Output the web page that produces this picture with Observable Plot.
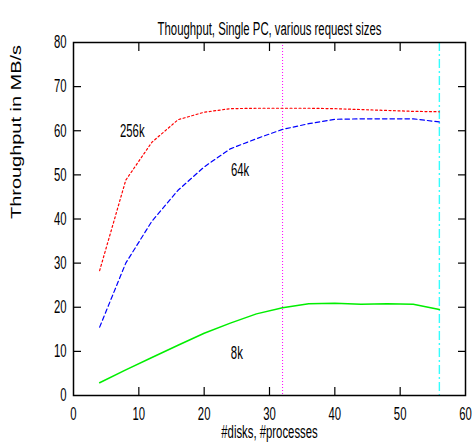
<!DOCTYPE html>
<html>
<head>
<meta charset="utf-8">
<script src="https://cdn.jsdelivr.net/npm/d3@7"></script>
<script src="https://cdn.jsdelivr.net/npm/@observablehq/plot@0.6"></script>
<style>
  html, body { margin: 0; padding: 0; background: #fff; }
  svg { display: block; }
</style>
</head>
<body>
<div id="chart"></div>
<script>
const disks = [4, 8, 12, 16, 20, 24, 28, 32, 36, 40, 44, 48, 52, 56];
const thr256k = [28.3, 48.8, 57.4, 62.5, 64.2, 65.0, 65.1, 65.1, 65.1, 65.0, 64.8, 64.6, 64.4, 64.3];
const thr64k  = [15.5, 30.0, 39.5, 46.5, 51.8, 55.9, 58.2, 60.3, 61.6, 62.6, 62.7, 62.7, 62.7, 62.0];
const thr8k   = [2.9, 5.8, 8.6, 11.4, 14.1, 16.4, 18.5, 19.9, 20.8, 20.9, 20.7, 20.8, 20.7, 19.5];
const markers = [32, 56];
const xTicks = [0, 10, 20, 30, 40, 50, 60];
const yTicks = [0, 10, 20, 30, 40, 50, 60, 70, 80];
const seriesLabels = [
  {x: 9.0, y: 59.9, text: "256k"},
  {x: 25.5, y: 51.0, text: "64k"},
  {x: 25.0, y: 9.6, text: "8k"}
];
const titleText = "Thoughput, Single PC, various request sizes";
const xLabel = "#disks, #processes";
const yLabel = "Throughput in MB/s";

const rows = (vals) => disks.map((d, i) => ({x: d, y: vals[i]}));
const font = "'Liberation Sans', Arial, sans-serif";

const chart = Plot.plot({
  width: 472,
  height: 445,
  marginLeft: 73,
  marginRight: 7,
  marginTop: 42,
  marginBottom: 50,
  style: {fontFamily: font, fontSize: "18px", color: "#000", background: "#fff"},
  x: {domain: [0, 60]},
  y: {domain: [0, 80]},
  marks: [
    Plot.ruleX([markers[0]], {x: d => d, stroke: "#ff00ff", strokeWidth: 1, strokeDasharray: "1,2"}),
    Plot.ruleX([markers[1]], {x: d => d, stroke: "#33ffff", strokeWidth: 1.4, strokeDasharray: "9,3,2,3"}),
    Plot.line(rows(thr256k), {x: "x", y: "y", stroke: "#ff0000", strokeWidth: 1.2, strokeDasharray: "2,2.5"}),
    Plot.line(rows(thr64k), {x: "x", y: "y", stroke: "#0000ff", strokeWidth: 1.2, strokeDasharray: "4.5,3"}),
    Plot.line(rows(thr8k), {x: "x", y: "y", stroke: "#00ee00", strokeWidth: 1.5}),
    Plot.text(seriesLabels, {x: "x", y: "y", text: "text", fontSize: 18, fill: "#000"}),
    Plot.frame({stroke: "#000", strokeWidth: 1.5}),
    Plot.axisX(xTicks.slice(1, -1), {anchor: "bottom", tickSize: -8, text: null, label: null, strokeWidth: 1.2}),
    Plot.axisX(xTicks.slice(1, -1), {anchor: "top", tickSize: -8, text: null, label: null, strokeWidth: 1.2}),
    Plot.axisY(yTicks.slice(1, -1), {anchor: "left", tickSize: -8, text: null, label: null, strokeWidth: 1.2}),
    Plot.axisY(yTicks.slice(1, -1), {anchor: "right", tickSize: -8, text: null, label: null, strokeWidth: 1.2}),
    Plot.axisX(xTicks, {anchor: "bottom", tickSize: 0, tickPadding: 12, fontSize: 18, label: null}),
    Plot.axisY(yTicks, {anchor: "left", tickSize: 0, tickPadding: 7, fontSize: 18, label: null}),
    Plot.text([xLabel], {frameAnchor: "bottom", dy: 42, fontSize: 18, fill: "#000"}),
    Plot.text([yLabel], {frameAnchor: "left", dx: -57, rotate: -90, fontSize: 14, fill: "#000"}),
    Plot.text([titleText], {frameAnchor: "top", dy: -20, fontSize: 18, fill: "#000"})
  ]
});
document.getElementById("chart").appendChild(chart);

// Condense horizontal text like the reference's narrow Helvetica; stretch the rotated y label.
d3.select(chart).selectAll("text").each(function () {
  const len = this.getComputedTextLength();
  if (!len) return;
  const isY = this.textContent === yLabel;
  const target = isY ? 174 : len * 0.63;
  this.setAttribute("textLength", target.toFixed(1));
  this.setAttribute("lengthAdjust", "spacingAndGlyphs");
});
</script>
</body>
</html>
